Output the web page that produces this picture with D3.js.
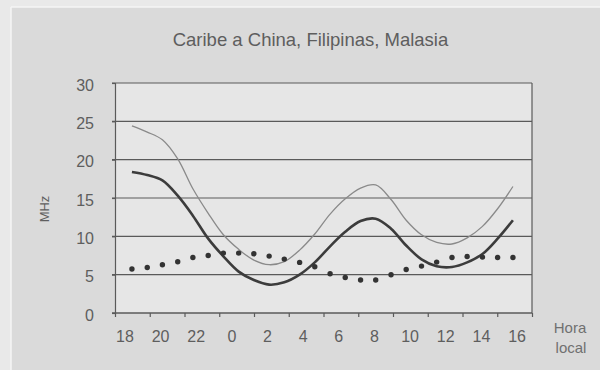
<!DOCTYPE html>
<html>
<head>
<meta charset="utf-8">
<script src="https://cdn.jsdelivr.net/npm/d3@7"></script>
<style>
  html, body { margin: 0; padding: 0; background: #ebebeb; }
  svg { display: block; font-family: "Liberation Sans", Arial, Helvetica, sans-serif; }
</style>
</head>
<body>
<svg id="chart" width="600" height="370"></svg>
<script>
// ---- data ----
const title = "Caribe a China, Filipinas, Malasia";
const yTicks = [0, 5, 10, 15, 20, 25, 30];
const hourLabels = ["18", "20", "22", "0", "2", "4", "6", "8", "10", "12", "14", "16"];
// sample times, hours after 18:00
const sampleHours = [0.39, 1.25, 2.10, 2.96, 3.81, 4.67, 5.52, 6.38, 7.23, 8.09, 8.94, 9.80, 10.65,
                     11.51, 12.36, 13.22, 14.07, 14.93, 15.78, 16.64, 17.49, 18.35, 19.20, 20.06, 20.91, 21.77];
const upperMHz = [24.4, 23.6, 22.6, 20.1, 16.2, 13.0, 10.2, 8.3, 6.9, 6.3, 6.7, 8.2, 10.3,
                  12.9, 14.9, 16.3, 16.7, 14.8, 12.1, 10.2, 9.2, 9.0, 9.8, 11.3, 13.6, 16.5];
const middleMHz = [18.4, 18.0, 17.3, 15.3, 12.7, 9.7, 7.4, 5.4, 4.3, 3.7, 4.0, 5.0, 6.6,
                   8.7, 10.6, 12.0, 12.3, 11.0, 8.8, 7.0, 6.1, 6.0, 6.6, 7.7, 9.7, 12.1];
const lowerMHz = [5.74, 5.94, 6.3, 6.68, 7.24, 7.5, 7.81, 7.81, 7.72, 7.42, 7.03, 6.6, 6.03,
                  5.12, 4.64, 4.3, 4.3, 4.99, 5.68, 6.12, 6.64, 7.24, 7.37, 7.29, 7.24, 7.24];

// ---- layout ----
const svg = d3.select("#chart");
const W = 600, H = 370;
const plot = { left: 115, right: 532, top: 83, bottom: 313 };

// background panel
svg.append("rect").attr("x", 0).attr("y", 0).attr("width", W).attr("height", H).attr("fill", "#e9e9e9");
svg.append("rect").attr("x", 11).attr("y", 7).attr("width", W - 11).attr("height", H - 7).attr("fill", "#dadada");
svg.append("line").attr("x1", 11).attr("x2", W).attr("y1", 7).attr("y2", 7).attr("stroke", "#f4f4f4").attr("stroke-width", 1.5);
svg.append("line").attr("x1", 11).attr("x2", 11).attr("y1", 7).attr("y2", H).attr("stroke", "#f4f4f4").attr("stroke-width", 1.5);

// plot area
svg.append("rect").attr("x", plot.left).attr("y", plot.top)
  .attr("width", plot.right - plot.left).attr("height", plot.bottom - plot.top).attr("fill", "#e6e6e6");

// scales
const x = d3.scaleLinear().domain([-0.56, 22.84]).range([plot.left, plot.right]);
const y = d3.scaleLinear().domain([0, 30]).range([plot.bottom, plot.top]);
const xTick = d3.scaleLinear().domain([0, hourLabels.length]).range([plot.left, plot.right]);

const textColor = "#5e5e5e";
const gridColor = "#5a5a5a";

// gridlines
svg.append("g").selectAll("line").data(yTicks.filter(d => d > 0)).join("line")
  .attr("x1", plot.left - 3).attr("x2", plot.right)
  .attr("y1", d => y(d)).attr("y2", d => y(d))
  .attr("stroke", gridColor).attr("stroke-width", 1.2);

// right border
svg.append("line").attr("x1", plot.right).attr("x2", plot.right)
  .attr("y1", plot.top).attr("y2", plot.bottom).attr("stroke", gridColor).attr("stroke-width", 1.2);

// y axis
const yAxis = svg.append("g").attr("transform", `translate(${plot.left},0)`)
  .call(d3.axisLeft(y).tickValues(yTicks).tickSize(3).tickPadding(18));
yAxis.select(".domain").attr("stroke", gridColor).attr("stroke-width", 1.2);
yAxis.selectAll(".tick line").attr("stroke", gridColor).attr("stroke-width", 1.2);
yAxis.selectAll(".tick text").attr("fill", textColor).attr("font-size", 16)
  .attr("font-family", "Liberation Sans, Arial, sans-serif").attr("dy", "0.45em");

// x axis (tick marks)
const xAxis = svg.append("g").attr("transform", `translate(0,${plot.bottom})`)
  .call(d3.axisBottom(xTick).tickValues(d3.range(0, hourLabels.length + 1)).tickSize(4).tickFormat(""));
xAxis.select(".domain").attr("stroke", gridColor).attr("stroke-width", 1.4)
  .attr("d", `M${plot.left - 3},0H${plot.right}`);
xAxis.selectAll(".tick line").attr("stroke", gridColor).attr("stroke-width", 1.2);

// x labels
svg.append("g").selectAll("text").data(hourLabels).join("text")
  .attr("x", (d, i) => x(i * 2)).attr("y", 341.5)
  .attr("text-anchor", "middle").attr("font-size", 16).attr("fill", textColor)
  .text(d => d);

// lines
const line = d3.line().x((d, i) => x(sampleHours[i])).y(d => y(d)).curve(d3.curveCatmullRom.alpha(0.5));
svg.append("path").datum(upperMHz).attr("d", line)
  .attr("fill", "none").attr("stroke", "#8a8a8a").attr("stroke-width", 1.3);
svg.append("path").datum(middleMHz).attr("d", line)
  .attr("fill", "none").attr("stroke", "#3c3c3c").attr("stroke-width", 2.6);

// dots
svg.append("g").selectAll("circle").data(lowerMHz).join("circle")
  .attr("cx", (d, i) => x(sampleHours[i])).attr("cy", d => y(d)).attr("r", 2.7)
  .attr("fill", "#333");

// title
svg.append("text").attr("x", 310.5).attr("y", 46).attr("text-anchor", "middle")
  .attr("font-size", 18.5).attr("fill", textColor).text(title);

// y label
svg.append("text").attr("transform", "translate(49,209) rotate(-90)")
  .attr("text-anchor", "middle").attr("font-size", 13).attr("fill", textColor).text("MHz");

// x label
const xl = svg.append("text").attr("text-anchor", "middle").attr("font-size", 15).attr("fill", "#707070");
xl.append("tspan").attr("x", 570).attr("y", 333).text("Hora");
xl.append("tspan").attr("x", 571).attr("y", 353).text("local");
</script>
</body>
</html>
